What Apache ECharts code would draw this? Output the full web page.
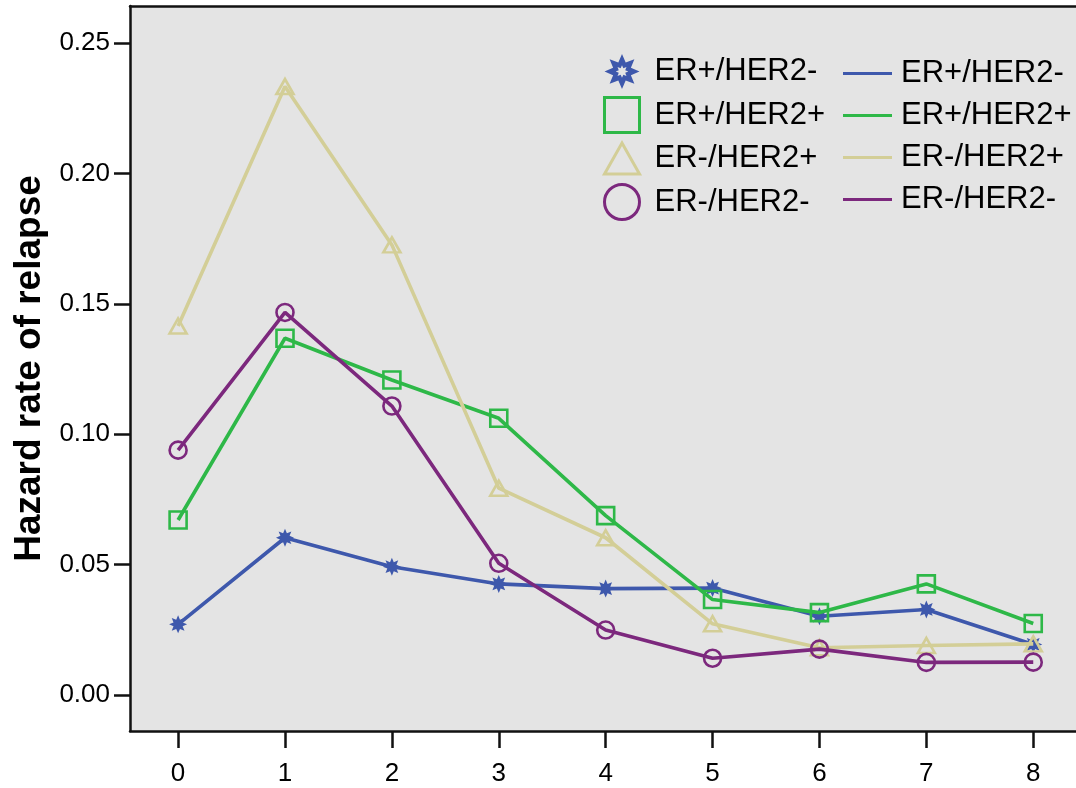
<!DOCTYPE html>
<html>
<head>
<meta charset="utf-8">
<script src="https://cdn.jsdelivr.net/npm/echarts@6/dist/echarts.min.js"></script>
<style>
  html, body { margin: 0; padding: 0; background: #ffffff; }
  #chart { width: 1076px; height: 788px; }
</style>
</head>
<body>
<div id="chart"></div>
<script>
// ---- data ----
const years = [0, 1, 2, 3, 4, 5, 6, 7, 8];
const yTicks = [0, 0.05, 0.10, 0.15, 0.20, 0.25];
const seriesNames = ['ER+/HER2-', 'ER+/HER2+', 'ER-/HER2+', 'ER-/HER2-'];
const erPosHer2Neg = [0.0271, 0.0603, 0.0492, 0.0426, 0.0408, 0.0410, 0.0302, 0.0328, 0.0194];
const erPosHer2Pos = [0.0671, 0.1368, 0.1208, 0.1061, 0.0688, 0.0366, 0.0316, 0.0426, 0.0274];
const erNegHer2Pos = [0.1415, 0.2333, 0.1726, 0.0793, 0.0603, 0.0273, 0.0181, 0.0190, 0.0196];
const erNegHer2Neg = [0.0939, 0.1467, 0.1108, 0.0505, 0.0249, 0.0141, 0.0176, 0.0125, 0.0126];

// ---- styles ----
const colors = ['#3E58AC', '#2EB848', '#D3CE97', '#7C287D'];
const FONT = '"Liberation Sans", Arial, sans-serif';
const starPath = 'path://M10,0 L12.1,4.92 L17.07,2.93 L15.08,7.9 L20,10 L15.08,12.1 L17.07,17.07 L12.1,15.08 L10,20 L7.9,15.08 L2.93,17.07 L4.92,12.1 L0,10 L4.92,7.9 L2.93,2.93 L7.9,4.92 Z';
const starHolePath = starPath + ' M10,6.4 L9.23,8.15 L7.45,7.45 L8.15,9.23 L6.4,10 L8.15,10.77 L7.45,12.55 L9.23,11.85 L10,13.6 L10.77,11.85 L12.55,12.55 L11.85,10.77 L13.6,10 L11.85,9.23 L12.55,7.45 L10.77,8.15 Z';
const triPath = 'path://M10,0 L20,17.6 L0,17.6 Z';
const plotSymbols = [starPath, 'rect', 'triangle', 'circle'];
const legendIcons = [starHolePath, 'rect', triPath, 'circle'];
const values = [erPosHer2Neg, erPosHer2Pos, erNegHer2Pos, erNegHer2Neg];

const series = seriesNames.map((name, i) => ({
  name: name,
  type: 'line',
  data: years.map((x, k) => [x, values[i][k]]),
  symbol: plotSymbols[i],
  symbolSize: i === 0 ? 18 : (i === 2 ? [17, 15] : 17),
  showAllSymbol: true,
  lineStyle: { color: colors[i], width: 3.6 },
  itemStyle: i === 0
    ? { color: colors[i], borderWidth: 0 }
    : { color: 'transparent', borderColor: colors[i], borderWidth: 2.6 },
  emphasis: { disabled: true },
  z: 2 + i
}));

const legendMarkers = {
  left: 603, top: 54, orient: 'vertical', padding: 0,
  itemWidth: 35, itemHeight: 35, itemGap: 7,
  selectedMode: false,
  textStyle: { fontFamily: FONT, fontSize: 31, color: '#000', lineHeight: 35, padding: [0, 0, 0, 10] },
  data: seriesNames.map((n, i) => ({
    name: n,
    icon: legendIcons[i],
    itemStyle: i === 0
      ? { color: colors[i], borderWidth: 0 }
      : { color: 'transparent', borderColor: colors[i], borderWidth: 3 }
  }))
};
const legendLines = {
  left: 843, top: 56, orient: 'vertical', padding: 0,
  itemWidth: 49, itemHeight: 3, itemGap: 7,
  selectedMode: false,
  textStyle: { fontFamily: FONT, fontSize: 31, color: '#000', lineHeight: 35, padding: [0, 0, 0, 4] },
  data: seriesNames.map((n, i) => ({
    name: n,
    icon: 'rect',
    itemStyle: { color: colors[i], borderWidth: 0 }
  }))
};

const chart = echarts.init(document.getElementById('chart'), null, { renderer: 'canvas' });
chart.setOption({
  animation: false,
  backgroundColor: '#ffffff',
  grid: {
    left: 130, top: 6, right: 0, height: 725,
    show: true, backgroundColor: '#e4e4e4', borderWidth: 0,
    containLabel: false
  },
  legend: [legendMarkers, legendLines],
  xAxis: [{
    type: 'value', min: -0.45, max: 8.40,
    splitLine: { show: false },
    axisLine: { show: true, onZero: false, lineStyle: { color: '#111', width: 2.5 } },
    axisTick: { show: true, length: 17, lineStyle: { color: '#111', width: 2.5 }, customValues: years },
    axisLabel: { show: true, customValues: years, margin: 30, fontFamily: FONT, fontSize: 26, color: '#000',
                 formatter: v => String(Math.round(v)) }
  }, {
    type: 'value', min: -0.45, max: 8.40, position: 'top',
    splitLine: { show: false },
    axisLine: { show: true, onZero: false, lineStyle: { color: '#111', width: 2.5 } },
    axisTick: { show: false },
    axisLabel: { show: false }
  }],
  yAxis: {
    type: 'value', min: -0.0138, max: 0.2642,
    name: 'Hazard rate of relapse', nameLocation: 'middle', nameRotate: 90, nameGap: 80,
    nameTextStyle: { fontFamily: FONT, fontSize: 37, fontWeight: 'bold', color: '#000' },
    splitLine: { show: false },
    axisLine: { show: true, onZero: false, lineStyle: { color: '#111', width: 2.5 } },
    axisTick: { show: true, length: 16, lineStyle: { color: '#111', width: 2.5 }, customValues: yTicks },
    axisLabel: { show: true, customValues: yTicks, margin: 20, fontFamily: FONT, fontSize: 26, color: '#000',
                 formatter: v => v.toFixed(2) }
  },
  series: series
});
</script>
</body>
</html>
